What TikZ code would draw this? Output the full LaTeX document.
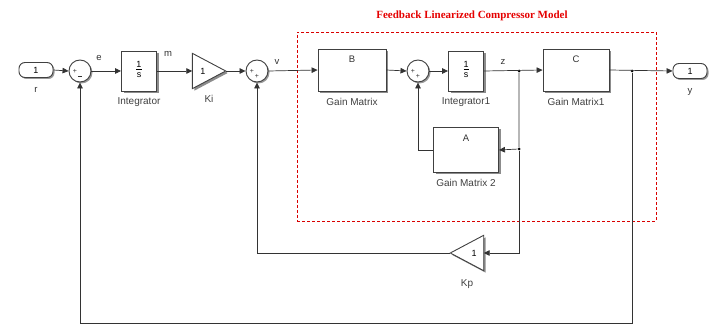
\documentclass[tikz,border=0pt]{standalone}
\usepackage{fontspec}
\setmainfont{Liberation Sans}
\newfontfamily\titlefont{Liberation Serif}
\usetikzlibrary{arrows.meta,shadows,calc,positioning}
\newcommand{\onebys}{\begin{tabular}{@{}c@{}}1\\[-1pt]\hline\rule{0pt}{8pt}s\end{tabular}}
\tikzset{
  blk/.style={draw=black!75, fill=white, line width=0.9pt, inner sep=0pt,
    drop shadow={shadow xshift=2pt, shadow yshift=-2pt, fill=black!45, opacity=1}},
  sumc/.style={circle, draw=black!75, fill=white, line width=0.9pt, minimum size=22pt, inner sep=0pt,
    drop shadow={shadow xshift=1.5pt, shadow yshift=-1.5pt, fill=black!40, opacity=1}},
  port/.style={rounded corners=6pt, draw=black!75, fill=white, line width=0.9pt, minimum width=34pt,
    minimum height=15pt, inner sep=0pt, font=\fontsize{9}{10}\selectfont,
    drop shadow={shadow xshift=1.5pt, shadow yshift=-1.5pt, fill=black!40, opacity=1}},
  trinode/.style={minimum width=33pt, minimum height=35pt, inner sep=0pt, font=\fontsize{9}{10}\selectfont},
  conn/.style={draw=black!80, line width=0.7pt, -{Triangle[length=6pt,width=5.5pt]}},
  lbl/.style={font=\fontsize{10}{11}\selectfont, text=black!75},
  sig/.style={font=\fontsize{9.5}{10}\selectfont, text=black!80},
  sgn/.style={font=\fontsize{7}{7}\selectfont, inner sep=0pt, text=black!80},
  dot/.style={circle, fill=black, inner sep=0pt, minimum size=3pt},
  frac/.style={font=\fontsize{9}{9}\selectfont},
}
\begin{document}
\begin{tikzpicture}[x=1pt,y=-1pt]
\useasboundingbox (0,0) rectangle (718,326);
% subsystem frame
\node[draw=red!85!black, densely dashed, line width=0.9pt, minimum width=359pt, minimum height=189pt, inner sep=0pt] (fl) at (476.5,126.5) {};
\node[text=red!90!black, font=\titlefont\bfseries\fontsize{11}{12}\selectfont] (title) at (472,16) {Feedback Linearized Compressor Model};

% blocks
\node[port] (inr) at (36,70) {1};
\node[sig, below=6pt of inr] (rl) {r};
\node[sumc] (s1) at (80,71) {};
\node[sgn] (s1a) at ($(s1)+(-5,0)$) {+};
\node[sgn] (s1b) at ($(s1)+(0,6)$) {\rule[1.5pt]{4.5pt}{0.7pt}};
\node[blk, minimum width=35pt, minimum height=40pt, frac] (int) at (139,71) {\onebys};
\node[lbl, below=3pt of int] (intl) {Integrator};
\node[trinode] (ki) at (209,71) {};
\fill[black!45] ($(ki.north west)+(2,2)$) -- ($(ki.east)+(2,2)$) -- ($(ki.south west)+(2,2)$) -- cycle;
\draw[black!75, fill=white, line width=0.9pt] (ki.north west) -- (ki.east) -- (ki.south west) -- cycle;
\node[font=\fontsize{9}{10}\selectfont] (kit) at ($(ki)+(-6,0)$) {1};
\node[lbl, below=3pt of ki] (kil) {Ki};
\node[sumc] (s2) at (257,71) {};
\node[sgn] (s2a) at ($(s2)+(-5,0)$) {+};
\node[sgn] (s2b) at ($(s2)+(0,5)$) {+};
\node[blk, minimum width=68pt, minimum height=42pt] (B) at (352,70) {};
\node[sig, below=4pt of B.north] (Bt) {B};
\node[lbl, below=3pt of B] (Bl) {Gain Matrix};
\node[sumc] (s3) at (418,71) {};
\node[sgn] (s3a) at ($(s3)+(-5,0)$) {+};
\node[sgn] (s3b) at ($(s3)+(0,5)$) {+};
\node[blk, minimum width=35pt, minimum height=40pt, frac] (int1) at (466,71) {\onebys};
\node[lbl, below=3pt of int1] (int1l) {Integrator1};
\node[blk, minimum width=66pt, minimum height=42pt] (C) at (576,70) {};
\node[sig, below=4pt of C.north] (Ct) {C};
\node[lbl, below=3pt of C] (Cl) {Gain Matrix1};
\node[port] (outy) at (690,71) {1};
\node[sig, below=6pt of outy] (yl) {y};
\node[blk, minimum width=65pt, minimum height=45pt] (A) at (466,150) {};
\node[sig, below=4pt of A.north] (At) {A};
\node[lbl, below=3pt of A] (Al) {Gain Matrix 2};
\node[trinode] (kp) at (467,253) {};
\fill[black!45] ($(kp.north east)+(2,2)$) -- ($(kp.west)+(2,2)$) -- ($(kp.south east)+(2,2)$) -- cycle;
\draw[black!75, fill=white, line width=0.9pt] (kp.north east) -- (kp.west) -- (kp.south east) -- cycle;
\node[font=\fontsize{9}{10}\selectfont] (kpt) at ($(kp)+(7,0)$) {1};
\node[lbl, below=5pt of kp] (kpl) {Kp};

% junctions
\node[dot] (j1) at (519,71) {};
\node[dot] (j3) at (519,149) {};
\node[dot] (j2) at (632,71) {};
\coordinate (bot) at (0,323);

% signal labels
\node[sig] (el) at (99,58) {e};
\node[sig] (ml) at (168,54) {m};
\node[sig] (vl) at (277,62) {v};
\node[sig] (zl) at (503,62) {z};

% connectors
\draw[conn] (inr.east) -- (s1.west);
\draw[conn] (s1.east) -- (int.west);
\draw[conn] (int.east) -- (ki.west);
\draw[conn] (ki.east) -- (s2.west);
\draw[conn] (s2.east) -- (B.west);
\draw[conn] (B.east) -- (s3.west);
\draw[conn] (s3.east) -- (int1.west);
\draw[conn] (int1.east) -- (C.west);
\draw[conn] (C.east) -- (outy.west);
\draw[conn] (j1) -- (j3) -- (A.east);
\draw[conn] (A.west) -- (s3 |- A.west) -- (s3.south);
\draw[conn] (j3) -- (j3 |- kp.east) -- (kp.east);
\draw[conn] (kp.west) -- (s2 |- kp.west) -- (s2.south);
\draw[conn] (j2) -- (j2 |- bot) -- (s1 |- bot) -- (s1.south);
\end{tikzpicture}
\end{document}
